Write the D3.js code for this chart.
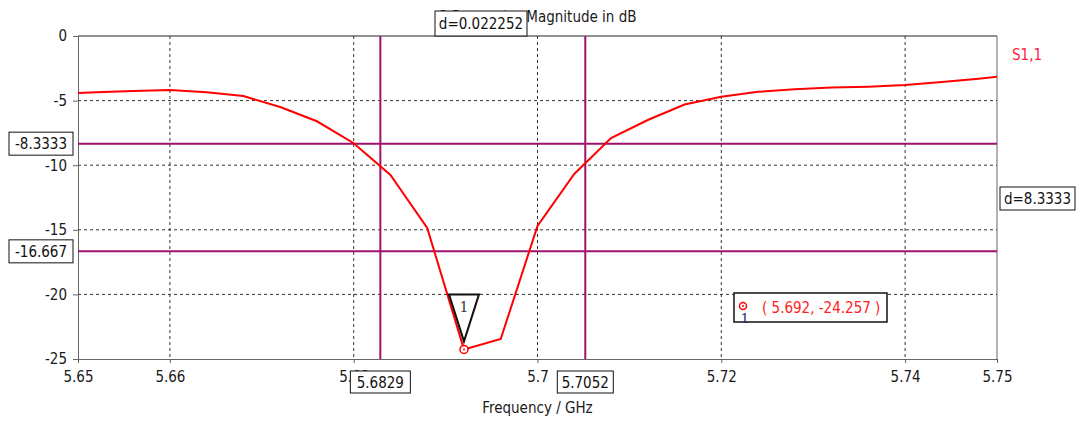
<!DOCTYPE html>
<meta charset="utf-8">
<style>
  body { margin: 0; background: #fff; }
  text { font-family: 'DejaVu Sans Condensed', 'Liberation Sans', sans-serif; }
  .grid line { stroke: #333; stroke-dasharray: 3,3; }
  .axis path, .axis line { stroke: #666; }
  .axis text { fill: #1a1a1a; }
</style>
<body>
<script src="https://cdn.jsdelivr.net/npm/d3@7"></script>
<script>
  var width = 1080, height = 425;

  // S1,1 data (GHz, dB)
  var freq = [5.650, 5.652, 5.656, 5.660, 5.664, 5.668, 5.672, 5.676, 5.680, 5.684,
              5.688, 5.692, 5.696, 5.700, 5.704, 5.708, 5.712, 5.716, 5.720, 5.724,
              5.728, 5.732, 5.736, 5.740, 5.744, 5.748, 5.750];
  var s11 = [-4.42, -4.35, -4.25, -4.18, -4.35, -4.65, -5.5, -6.6, -8.3, -10.76,
             -14.86, -24.257, -23.45, -14.7, -10.68, -7.9, -6.5, -5.3, -4.7, -4.32,
             -4.12, -3.98, -3.92, -3.8, -3.56, -3.3, -3.15];

  var xTicks = [5.65, 5.66, 5.68, 5.7, 5.72, 5.74, 5.75];
  var xGrid = [5.66, 5.68, 5.7, 5.72, 5.74];
  var yTicks = [0, -5, -10, -15, -20, -25];
  var yGrid = [-5, -10, -15, -20];

  var vMarkers = [5.6829, 5.7052];
  var hMarkers = [-8.3333, -16.667];
  var dLabels = ["d=0.022252", "d=8.3333"];
  var marker = {f: 5.692, v: -24.257};

  var pLeft = 78, pRight = 997, pTop = 36, pBottom = 359;

  var x = d3.scaleLinear().domain([5.65, 5.75]).range([pLeft, pRight]);
  var y = d3.scaleLinear().domain([-25, 0]).range([pBottom, pTop]);

  var svg = d3.select("body").append("svg")
    .attr("width", width)
    .attr("height", height);

  // grid
  svg.append("g").attr("class", "grid")
    .selectAll("line").data(xGrid).enter().append("line")
    .attr("x1", function(d) { return x(d) }).attr("x2", function(d) { return x(d) })
    .attr("y1", pTop).attr("y2", pBottom);
  svg.append("g").attr("class", "grid")
    .selectAll("line").data(yGrid).enter().append("line")
    .attr("y1", function(d) { return y(d) }).attr("y2", function(d) { return y(d) })
    .attr("x1", pLeft).attr("x2", pRight);

  // frame
  svg.append("line").attr("x1", pLeft).attr("x2", pRight).attr("y1", pTop).attr("y2", pTop)
    .attr("stroke", "#222").attr("stroke-width", 1);
  svg.append("line").attr("x1", pRight).attr("x2", pRight).attr("y1", pTop).attr("y2", pBottom)
    .attr("stroke", "#666");

  // axes
  svg.append("g").attr("class", "axis")
    .attr("transform", "translate(0," + pBottom + ")")
    .call(d3.axisBottom(x).tickValues(xTicks).tickSize(4).tickPadding(8)
      .tickFormat(function(d) { return String(+d.toFixed(2)) }));
  svg.append("g").attr("class", "axis")
    .attr("transform", "translate(" + pLeft + ",0)")
    .call(d3.axisLeft(y).tickValues(yTicks).tickSize(5).tickPadding(6)
      .tickFormat(function(d) { return String(d) }));
  svg.selectAll(".axis .domain").attr("stroke", "#555");
  svg.selectAll(".axis text").style("font-size", "15px");

  // marker lines
  var purple = "#a0106e";
  svg.selectAll(".vm").data(vMarkers).enter().append("line")
    .attr("x1", function(d) { return x(d) }).attr("x2", function(d) { return x(d) })
    .attr("y1", pTop).attr("y2", pBottom)
    .attr("stroke", purple).attr("stroke-width", 2);
  svg.selectAll(".hm").data(hMarkers).enter().append("line")
    .attr("y1", function(d) { return y(d) }).attr("y2", function(d) { return y(d) })
    .attr("x1", pLeft).attr("x2", pRight)
    .attr("stroke", purple).attr("stroke-width", 2);

  // curve
  var line = d3.line()
    .x(function(d, i) { return x(freq[i]) })
    .y(function(d) { return y(d) });
  svg.append("path").datum(s11)
    .attr("d", line)
    .attr("fill", "none")
    .attr("stroke", "#ff0000")
    .attr("stroke-width", 2);

  // titles
  svg.append("text").attr("x", (pLeft + pRight) / 2).attr("y", 22)
    .attr("text-anchor", "middle").attr("fill", "#1a1a1a").style("font-size", "15px")
    .text("S-Parameter Magnitude in dB");
  svg.append("text").attr("x", (pLeft + pRight) / 2).attr("y", 413)
    .attr("text-anchor", "middle").attr("fill", "#1a1a1a").style("font-size", "15px")
    .text("Frequency / GHz");
  svg.append("text").attr("x", 1012).attr("y", 60)
    .attr("fill", "#ff2040").style("font-size", "15px")
    .text("S1,1");

  // boxed labels
  function box(bx, by, w, h, label) {
    var g = svg.append("g");
    g.append("rect").attr("x", bx).attr("y", by).attr("width", w).attr("height", h)
      .attr("fill", "#fff").attr("stroke", "#111").attr("stroke-width", 1);
    g.append("text").attr("x", bx + w / 2).attr("y", by + h / 2 + 5.5)
      .attr("text-anchor", "middle").attr("fill", "#111").style("font-size", "15px")
      .text(label);
  }
  box(x(vMarkers[0]) - 30, 371, 60, 22, String(vMarkers[0]));
  box(x(vMarkers[1]) - 28, 371, 56, 22, String(vMarkers[1]));
  box(9, y(hMarkers[0]) - 11.5, 64, 23, String(hMarkers[0]));
  box(9, y(hMarkers[1]) - 11.5, 64, 23, String(hMarkers[1]));
  box(1000, 187, 75, 23, dLabels[1]);
  box(435, 11, 92, 25, dLabels[0]);

  // marker 1
  var mx = x(marker.f), my = y(marker.v);
  svg.append("path")
    .attr("d", "M" + (mx - 15) + "," + y(-20) + "L" + (mx + 15) + "," + y(-20) + "L" + mx + "," + (my - 8) + "Z")
    .attr("fill", "#fff").attr("fill-opacity", 0.6).attr("stroke", "#111").attr("stroke-width", 2);
  svg.append("text").attr("x", mx).attr("y", y(-20) + 18)
    .attr("text-anchor", "middle").attr("fill", "#333")
    .style("font-family", "'DejaVu Serif', serif").style("font-size", "14px").text("1");
  svg.append("circle").attr("cx", mx).attr("cy", my).attr("r", 4)
    .attr("fill", "#fff").attr("stroke", "#ff0000").attr("stroke-width", 1.5);
  svg.append("circle").attr("cx", mx).attr("cy", my).attr("r", 1).attr("fill", "#ff0000");

  // marker info box
  var ib = svg.append("g");
  ib.append("rect").attr("x", 734).attr("y", 293).attr("width", 153).attr("height", 29)
    .attr("fill", "#fff").attr("stroke", "#111").attr("stroke-width", 1.5);
  ib.append("circle").attr("cx", 743).attr("cy", 306).attr("r", 3.5)
    .attr("fill", "#fff").attr("stroke", "#ff0000").attr("stroke-width", 1.5);
  ib.append("circle").attr("cx", 743).attr("cy", 306).attr("r", 1).attr("fill", "#ff0000");
  ib.append("text").attr("x", 745).attr("y", 323).attr("text-anchor", "middle")
    .attr("fill", "#1a2a8a").style("font-family", "'DejaVu Serif', serif").style("font-size", "13px").text("1");
  ib.append("text").attr("x", 762).attr("y", 313)
    .attr("fill", "#ff2020").style("font-size", "15px")
    .text("( " + marker.f + ", " + marker.v + " )");
</script>
</body>
